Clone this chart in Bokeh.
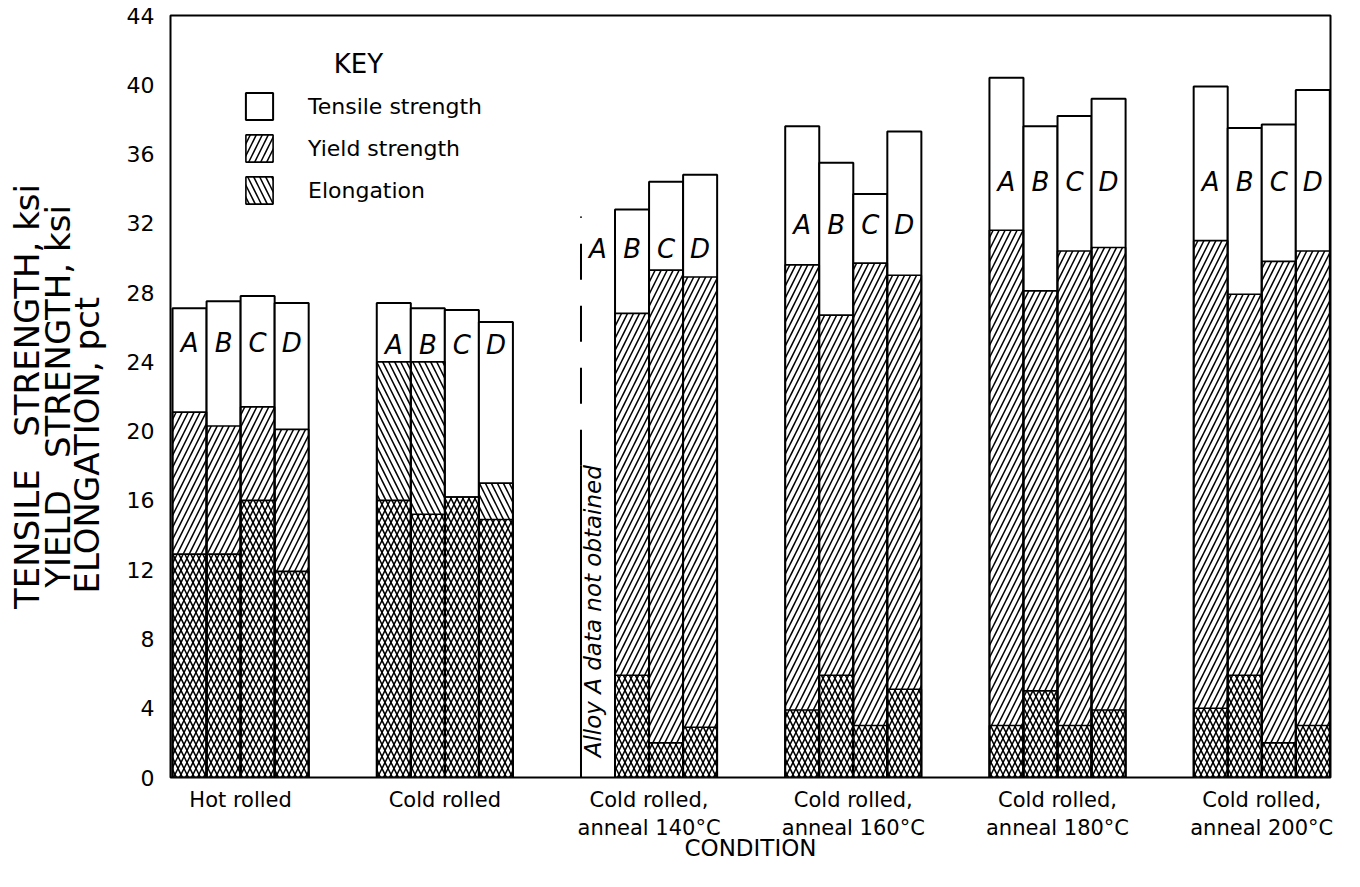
from math import pi
from bokeh.plotting import figure
from bokeh.models import ColumnDataSource, FixedTicker, Legend, LegendItem, Label, LinearAxis
from bokeh.embed import file_html
from bokeh.resources import INLINE
from bokeh.core.properties import value

FONT = "DejaVu Sans"

conditions = ["Hot rolled", "Cold rolled", "Cold rolled,\nanneal 140°C",
              "Cold rolled,\nanneal 160°C", "Cold rolled,\nanneal 180°C",
              "Cold rolled,\nanneal 200°C"]
alloys = ["A", "B", "C", "D"]

# ksi
tensile = [
    [27.1, 27.5, 27.8, 27.4],
    [27.4, 27.1, 27.0, 26.3],
    [None, 32.8, 34.4, 34.8],
    [37.6, 35.5, 33.7, 37.3],
    [40.4, 37.6, 38.2, 39.2],
    [39.9, 37.5, 37.7, 39.7],
]
# ksi
yield_strength = [
    [21.1, 20.3, 21.4, 20.1],
    [16.0, 15.2, 16.2, 14.9],
    [None, 26.8, 29.3, 28.9],
    [29.6, 26.7, 29.7, 29.0],
    [31.6, 28.1, 30.4, 30.6],
    [31.0, 27.9, 29.8, 30.4],
]
# pct
elongation = [
    [12.9, 12.9, 16.0, 11.9],
    [24.0, 24.0, 16.2, 17.0],
    [None, 5.9, 2.0, 2.9],
    [3.9, 5.9, 3.0, 5.1],
    [3.0, 5.0, 3.0, 3.9],
    [4.0, 5.9, 2.0, 3.0],
]
y_ticks = list(range(0, 45, 4))
NB = "\u00a0"
y_title_tensile = "TENSILE" + NB * 3 + "STRENGTH, ksi"
y_title_yield = "YIELD" + NB * 3 + "STRENGTH, ksi"
y_title_elong = "ELONGATION, pct" + NB * 9
missing_note = "Alloy A data not obtained"

# layout constants (positions only)
BAR_W = 1.0
PERIOD = 6
letter_level = [25.1, 25.0, 30.5, 31.9, 34.4, 34.4]

xs, ts, ys, es = [], [], [], []
lx, ly, lt = [], [], []
missing = []
for g in range(len(conditions)):
    for i, a in enumerate(alloys):
        xc = PERIOD * g + i * BAR_W + BAR_W / 2
        lx.append(xc)
        ly.append(letter_level[g])
        lt.append(a)
        if tensile[g][i] is None:
            missing.append((g, i))
            continue
        xs.append(xc)
        ts.append(tensile[g][i])
        ys.append(yield_strength[g][i])
        es.append(elongation[g][i])

src = ColumnDataSource(dict(x=xs, tensile=ts, yld=ys, elong=es))

p = figure(width=1344, height=871, x_range=(-0.06, 34.02), y_range=(0, 44),
           output_backend="svg", toolbar_location=None,
           min_border_left=170, min_border_right=14, min_border_top=15,
           min_border_bottom=94)
p.xgrid.visible = False
p.ygrid.visible = False
p.outline_line_color = "black"
p.outline_line_width = 2
p.background_fill_color = "white"

HATCH = dict(hatch_color="black", hatch_weight=1.5, hatch_scale=12)

r_t = p.vbar(x="x", top="tensile", bottom=0, width=BAR_W, source=src,
             fill_color="white", line_color="black", line_width=2)
r_y = p.vbar(x="x", top="yld", bottom=0, width=BAR_W, source=src,
             fill_color=None, hatch_pattern="/", line_color="black", line_width=1.6, **HATCH)
r_e = p.vbar(x="x", top="elong", bottom=0, width=BAR_W, source=src,
             fill_color=None, hatch_pattern="\\", line_color="black", line_width=1.6, **HATCH)

# alloy letters
p.text(x=lx, y=ly, text=lt, text_font=value(FONT), text_font_style="italic",
       text_font_size="26px", text_align="center", text_baseline="middle", text_color="black")

# missing-data marker for alloy A
for g, i in missing:
    x_edge = PERIOD * g + i * BAR_W
    p.segment(x0=[x_edge], y0=[18.0], x1=[x_edge], y1=[32.4], line_color="black",
              line_width=2, line_dash="36 26")
    p.segment(x0=[x_edge], y0=[0], x1=[x_edge], y1=[18.0], line_color="black", line_width=2)
    p.text(x=[x_edge + 0.34], y=[9.6], text=[missing_note], angle=pi / 2,
           text_font=value(FONT), text_font_style="italic", text_font_size="23px",
           text_align="center", text_baseline="middle", text_color="black")

# main y axis (ticks + ELONGATION title)
p.yaxis.ticker = FixedTicker(ticks=y_ticks)
p.yaxis.axis_line_color = None
p.yaxis.major_tick_line_color = None
p.yaxis.minor_tick_line_color = None
p.yaxis.major_label_text_font = FONT
p.yaxis.major_label_text_font_size = "22px"
p.yaxis.major_label_text_color = "black"
p.yaxis.major_label_standoff = 10
p.yaxis.axis_label = y_title_elong
p.yaxis.axis_label_text_font = FONT
p.yaxis.axis_label_text_font_size = "34px"
p.yaxis.axis_label_text_font_style = "normal"
p.yaxis.axis_label_text_color = "black"
p.yaxis.axis_label_standoff = 17

# extra label-only axes for the other two title lines
for txt, so in [(y_title_yield, -14), (y_title_tensile, -12)]:
    ax = LinearAxis(ticker=FixedTicker(ticks=[]), axis_label=txt,
                    axis_line_color=None, major_tick_line_color=None,
                    minor_tick_line_color=None, major_tick_in=0, major_tick_out=0,
                    minor_tick_in=0, minor_tick_out=0, major_label_standoff=0,
                    axis_label_standoff=so, axis_label_text_font=FONT,
                    axis_label_text_font_size="34px", axis_label_text_font_style="normal",
                    axis_label_text_color="black")
    p.add_layout(ax, "left")

group_centers = [PERIOD * g + 2 * BAR_W for g in range(len(conditions))]
p.xaxis.ticker = FixedTicker(ticks=group_centers)
p.xaxis.major_label_overrides = {c: lab for c, lab in zip(group_centers, conditions)}
p.xaxis.axis_line_color = None
p.xaxis.major_tick_line_color = None
p.xaxis.minor_tick_line_color = None
p.xaxis.major_label_text_font = FONT
p.xaxis.major_label_text_font_size = "21px"
p.xaxis.major_label_text_color = "black"
p.xaxis.major_label_standoff = 4
p.xaxis.axis_label = "CONDITION"
p.xaxis.axis_label_text_font = FONT
p.xaxis.axis_label_text_font_size = "23px"
p.xaxis.axis_label_text_font_style = "normal"
p.xaxis.axis_label_text_color = "black"
p.xaxis.axis_label_standoff = -8

# legend
legend = Legend(items=[LegendItem(label="Tensile strength", renderers=[r_t]),
                       LegendItem(label="Yield strength", renderers=[r_y]),
                       LegendItem(label="Elongation", renderers=[r_e])],
                location=(72, 570), glyph_width=34, glyph_height=34, spacing=8,
                label_standoff=32, padding=0, margin=0, border_line_color=None,
                background_fill_alpha=0, label_text_font=FONT,
                label_text_font_size="22px", label_text_color="black")
p.add_layout(legend)
p.add_layout(Label(x=5.46, y=41.2, text="KEY", text_font=FONT, text_font_size="26px",
                   text_align="center", text_baseline="middle", text_color="black"))

open("out.html", "w").write(file_html(p, INLINE))
